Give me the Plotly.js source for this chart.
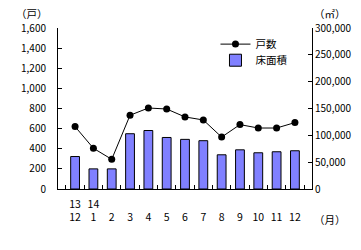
<!DOCTYPE html>
<html>
<head>
<meta charset="utf-8">
<script src="https://cdn.plot.ly/plotly-3.0.1.min.js"></script>
<style>html,body{margin:0;padding:0;background:#fff;}#chart{width:361px;height:250px;}</style>
</head>
<body>
<div id="chart"></div>
<script>
const categories = ["13-12","14-1","2","3","4","5","6","7","8","9","10","11","12"];
const tickLabels = ["13<br>12","14<br>1"," <br>2"," <br>3"," <br>4"," <br>5"," <br>6"," <br>7"," <br>8"," <br>9"," <br>10"," <br>11"," <br>12"];
const households = [620, 405, 295, 733, 805, 795, 716, 686, 516, 640, 606, 606, 660];
const floorArea = [60500, 37500, 37500, 103000, 109000, 96000, 92500, 90000, 63750, 73000, 67500, 69400, 71250];

const font = {family: "Noto Sans CJK JP, sans-serif", size: 10, color: "#000"};
const legFont = {family: "Noto Sans CJK JP, sans-serif", size: 10.5, color: "#000"};

const data = [
  {
    type: "scatter", mode: "lines+markers", name: "戸数", legend: "legend",
    x: categories, y: households, yaxis: "y2",
    line: {color: "#000", width: 1},
    marker: {color: "#000", size: 7, symbol: "circle"}
  },
  {
    type: "bar", name: "床面積", legend: "legend2",
    x: categories, y: floorArea, yaxis: "y",
    marker: {color: "#8080FF", line: {color: "#000", width: 1}}
  }
];

const layout = {
  width: 361, height: 250,
  margin: {l: 58, r: 49, t: 28, b: 61},
  paper_bgcolor: "#fff", plot_bgcolor: "#fff",
  font: font,
  showlegend: true,
  legend: {x: 0.62, y: 0.99, xanchor: "left", yanchor: "top", bgcolor: "rgba(0,0,0,0)",
           font: legFont, itemwidth: 30},
  legend2: {x: 0.62, y: 0.89, xanchor: "left", yanchor: "top", bgcolor: "rgba(0,0,0,0)",
           font: legFont, itemwidth: 30},
  bargap: 0.52,
  xaxis: {
    type: "category", tickvals: categories, ticktext: tickLabels,
    tickson: "boundaries", ticks: "inside", ticklen: 4, tickcolor: "#000",
    showline: true, linecolor: "#000", linewidth: 1, showgrid: false,
    tickfont: {family: "Noto Sans CJK JP, sans-serif", size: 10.5}, tickangle: 0,
    ticklabelstandoff: 5
  },
  yaxis: {
    side: "right", range: [0, 300000], dtick: 50000, tickformat: ",",
    showline: true, linecolor: "#000", linewidth: 1, ticks: "inside", ticklen: 4, tickcolor: "#000",
    showgrid: false, zeroline: false, tickfont: {family: "Noto Sans CJK JP, sans-serif", size: 10}
  },
  yaxis2: {
    overlaying: "y", side: "left", range: [0, 1600], dtick: 200, tickformat: ",",
    showline: true, linecolor: "#000", linewidth: 1, ticks: "inside", ticklen: 4, tickcolor: "#000",
    showgrid: false, zeroline: false, tickfont: {family: "Noto Sans CJK JP, sans-serif", size: 10},
    ticklabelstandoff: 9
  },
  annotations: [
    {text: "（戸）", xref: "paper", yref: "paper", x: -0.03, y: 1.0, yshift: 15, xanchor: "right", yanchor: "middle", showarrow: false, font: {size: 10.5}},
    {text: "（㎡）", xref: "paper", yref: "paper", x: 1.0, y: 1.0, yshift: 15, xanchor: "left", yanchor: "middle", showarrow: false, font: {size: 10.5}},
    {text: "（月）", xref: "paper", yref: "paper", x: 1.0, y: 0, yshift: -30, xanchor: "left", yanchor: "middle", showarrow: false, font: {size: 10.5}}
  ]
};

Plotly.newPlot("chart", data, layout, {displayModeBar: false, staticPlot: true});
</script>
</body>
</html>
